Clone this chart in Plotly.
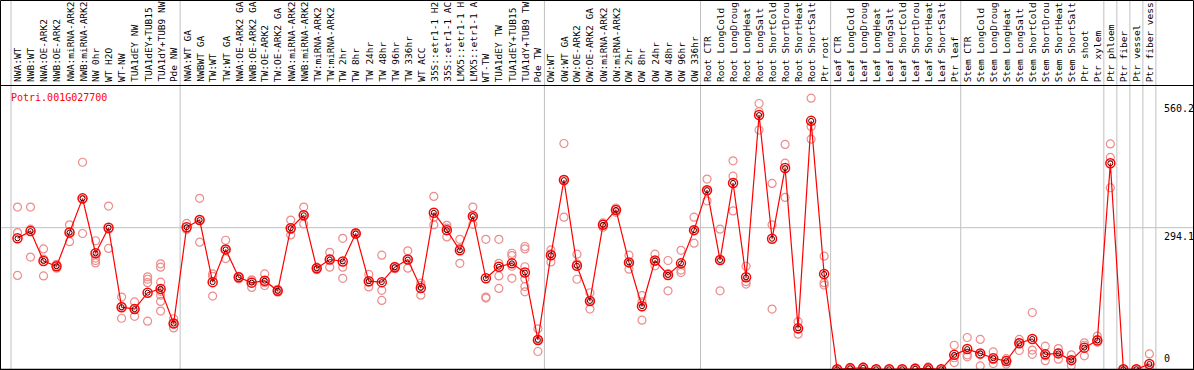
import plotly.graph_objects as go

W, H = 1194, 370

gene = "Potri.001G027700"

categories = [
    "NWA:WT", "NWB:WT", "NWA:OE-ARK2", "NWB:OE-ARK2", "NWA:miRNA-ARK2", "NWB:miRNA-ARK2",
    "NW 0hr", "WT H2O", "WT-NW", "TUA1dEY NW", "TUA1dEY+TUB15", "TUA1dY+TUB9 NW", "Pde NW",
    "NWA:WT GA", "NWBWT GA", "TW:WT", "TW:WT GA", "NWA:OE-ARK2 GA", "NWB:OE-ARK2 GA",
    "TW:OE-ARK2", "TW:OE-ARK2 GA", "NWA:miRNA-ARK2", "NWB:miRNA-ARK2", "TW:miRNA-ARK2",
    "TW:miRNA-ARK2", "TW 2hr", "TW 8hr", "TW 24hr", "TW 48hr", "TW 96hr", "TW 336hr",
    "WT ACC", "35S::etr1-1 H2", "35S::etr1-1 AC", "LMX5::etr1-1 H", "LMX5::etr1-1 A",
    "WT-TW", "TUA1dEY TW", "TUA1dEY+TUB15", "TUA1dY+TUB9 TW", "Pde TW",
    "OW:WT", "OW:WT GA", "OW:OE-ARK2", "OW:OE-ARK2 GA", "OW:miRNA-ARK2", "OW:miRNA-ARK2",
    "OW 2hr", "OW 8hr", "OW 24hr", "OW 48hr", "OW 96hr", "OW 336hr",
    "Root CTR", "Root LongCold", "Root LongDroug", "Root LongHeat", "Root LongSalt",
    "Root ShortCold", "Root ShortDrou", "Root ShortHeat", "Root ShortSalt", "Ptr root",
    "Leaf CTR", "Leaf LongCold", "Leaf LongDroug", "Leaf LongHeat", "Leaf LongSalt",
    "Leaf ShortCold", "Leaf ShortDrou", "Leaf ShortHeat", "Leaf ShortSalt", "Ptr leaf",
    "Stem CTR", "Stem LongCold", "Stem LongDroug", "Stem LongHeat", "Stem LongSalt",
    "Stem ShortCold", "Stem ShortDrou", "Stem ShortHeat", "Stem ShortSalt", "Ptr shoot",
    "Ptr xylem", "Ptr phloem", "Ptr fiber", "Ptr vessel", "Ptr fiber vess",
]

means = [
    272, 287, 225, 214, 284, 355, 241, 294, 129, 125, 159, 167, 95,
    295, 310, 181, 249, 191, 180, 184, 163, 293, 320, 210, 228, 224,
    282, 183, 181, 212, 228, 169, 325, 289, 247, 318, 189, 213, 220, 201, 61,
    237, 393, 215, 142, 300, 331, 222, 131, 226, 196, 220, 289,
    372, 227, 387, 191, 528, 271, 418, 85, 516, 198,
    0, 2, 3, 0, 0, 0, 1, 2, 0, 30,
    42, 33, 23, 17, 54, 63, 31, 33, 19, 45,
    60, 428, 0, 0, 11,
]

replicates = [
    [337, 284, 195], [337, 291, 233], [250, 229, 194], [210, 214, 218], [300, 265, 286],
    [430, 282, 353], [267, 231, 226, 221], [339, 291, 251], [150, 106, 131], [140, 110, 126],
    [192, 187, 180, 100], [219, 212, 181, 162, 154, 141, 121], [105, 86, 95],
    [303, 291, 291], [355, 264, 311], [198, 152, 193], [268, 230, 249], [193, 188, 192],
    [186, 170, 184], [198, 174, 180], [166, 160, 163], [310, 279, 290], [337, 302, 321],
    [212, 207, 211], [243, 212, 229], [272, 212, 189], [284, 280, 282], [197, 171, 181],
    [237, 164, 143], [214, 209, 213], [246, 210, 228], [174, 154, 179], [359, 300, 316],
    [293, 275, 299], [270, 220, 251], [337, 301, 316], [270, 150, 148], [270, 194, 168, 220],
    [241, 236, 189, 214], [255, 250, 213, 188, 172, 161], [84, 37, 62],
    [248, 223, 240], [469, 316, 394], [239, 187, 219], [159, 125, 142], [304, 295, 301],
    [335, 326, 332], [237, 208, 221], [153, 102, 140], [239, 215, 224], [226, 163, 199],
    [247, 206, 201], [316, 262, 289],
    [395, 350, 371], [291, 163, 227], [433, 401, 329], [214, 182, 177], [552, 535, 497],
    [386, 300, 125], [467, 428, 357], [99, 73, 83], [563, 504, 478], [235, 180, 175],
    [0, 0, 0], [4, 1, 1], [5, 2, 2], [0, 0, 0], [0, 0, 0], [0, 0, 0], [3, 0, 0], [5, 1, 0],
    [0, 0, 0], [50, 24, 14],
    [66, 30, 26], [62, 30, 7], [36, 20, 12], [22, 18, 11], [62, 55, 39], [118, 40, 31],
    [48, 28, 18], [43, 34, 21], [30, 19, 8], [55, 50, 28],
    [69, 56, 62], [468, 440, 377], [0, 0, 0], [0, 0, 0], [32, 3, 0],
]

# group boundaries (between category indices)
group_breaks = [-0.5, 12.5, 40.5, 52.5, 62.5, 72.5, 83.5, 84.5, 85.5, 86.5, 87.5]

y_ticks = [560.2, 294.1, 0]
y_grid = [294.1]

# ---- scales (pixel geometry) ----
X0_PX, DX_PX = 17.5, 13.01       # pixel of first category, spacing
Y0_PX, SY = 369.3, 0.4815        # pixel of value 0 (from top), px per unit
x_range = [-X0_PX / DX_PX, (W - X0_PX) / DX_PX]
y_range = [(Y0_PX - H) / SY, Y0_PX / SY]


def px(p):
    return p / W


def py(q):
    return 1 - q / H


def val_to_ypx(v):
    return Y0_PX - SY * v


FONT = "DejaVu Sans Mono"
xs = list(range(len(categories)))

rep_x, rep_y = [], []
for i, reps in enumerate(replicates):
    for r in reps:
        rep_x.append(i)
        rep_y.append(r)

fig = go.Figure()
fig.add_trace(go.Scatter(
    x=rep_x, y=rep_y, mode="markers",
    marker=dict(symbol="circle-open", size=8, color="rgb(236,140,140)", line=dict(width=1.2)),
    hoverinfo="skip", showlegend=False,
))
fig.add_trace(go.Scatter(
    x=xs, y=means, mode="lines+markers",
    line=dict(color="#ff0000", width=1.2),
    marker=dict(symbol="circle-open", size=9, color="#ff0000", line=dict(width=1.5)),
    showlegend=False,
))
fig.add_trace(go.Scatter(
    x=xs, y=means, mode="markers",
    marker=dict(symbol="circle-open", size=5, color="#400000", line=dict(width=1)),
    hoverinfo="skip", showlegend=False,
))

shapes = []
GRID = "rgb(192,192,192)"
for b in group_breaks:
    shapes.append(dict(type="line", xref="x", yref="paper", x0=b, x1=b, y0=py(369), y1=1,
                       line=dict(color=GRID, width=1), layer="below"))
for g in y_grid:
    shapes.append(dict(type="line", xref="paper", yref="y", x0=px(1), x1=1, y0=g, y1=g,
                       line=dict(color=GRID, width=1), layer="below"))
# frame and separators
shapes.append(dict(type="rect", xref="paper", yref="paper", x0=px(0.5), x1=px(W - 0.5),
                   y0=py(H - 0.5), y1=py(0.5), line=dict(color="black", width=1)))
shapes.append(dict(type="line", xref="paper", yref="paper", x0=0, x1=1, y0=py(85.5), y1=py(85.5),
                   line=dict(color="black", width=1)))
shapes.append(dict(type="line", xref="paper", yref="paper", x0=0, x1=1, y0=py(369.5), y1=py(369.5),
                   line=dict(color="black", width=1.5)))

annotations = []
for i, c in enumerate(categories):
    annotations.append(dict(
        x=i, xref="x", y=py(84), yref="paper", text=c, textangle=-90,
        xanchor="center", yanchor="bottom", showarrow=False,
        font=dict(family=FONT, size=9.5, color="black"),
    ))
annotations.append(dict(
    x=px(9), xref="paper", y=py(97), yref="paper", text=gene, xanchor="left", yanchor="middle",
    showarrow=False, font=dict(family=FONT, size=10, color="#ff0000"),
))
for t in y_ticks:
    if t == 0:
        yy, ya = py(val_to_ypx(t) - 3), "bottom"
    else:
        yy, ya = py(val_to_ypx(t) + 1), "top"
    annotations.append(dict(
        x=px(1162), xref="paper", y=yy, yref="paper", text=f"{t:g}",
        xanchor="left", yanchor=ya, showarrow=False,
        font=dict(family=FONT, size=10, color="black"),
    ))

fig.update_layout(
    width=W, height=H, margin=dict(l=0, r=0, t=0, b=0),
    paper_bgcolor="white", plot_bgcolor="white",
    xaxis=dict(range=x_range, domain=[0, 1], visible=False, fixedrange=True),
    yaxis=dict(range=y_range, domain=[0, 1], visible=False, fixedrange=True),
    shapes=shapes, annotations=annotations, showlegend=False,
)

fig.write_html("out.html", config={"displayModeBar": False},
               post_script="document.body.style.margin='0';")
